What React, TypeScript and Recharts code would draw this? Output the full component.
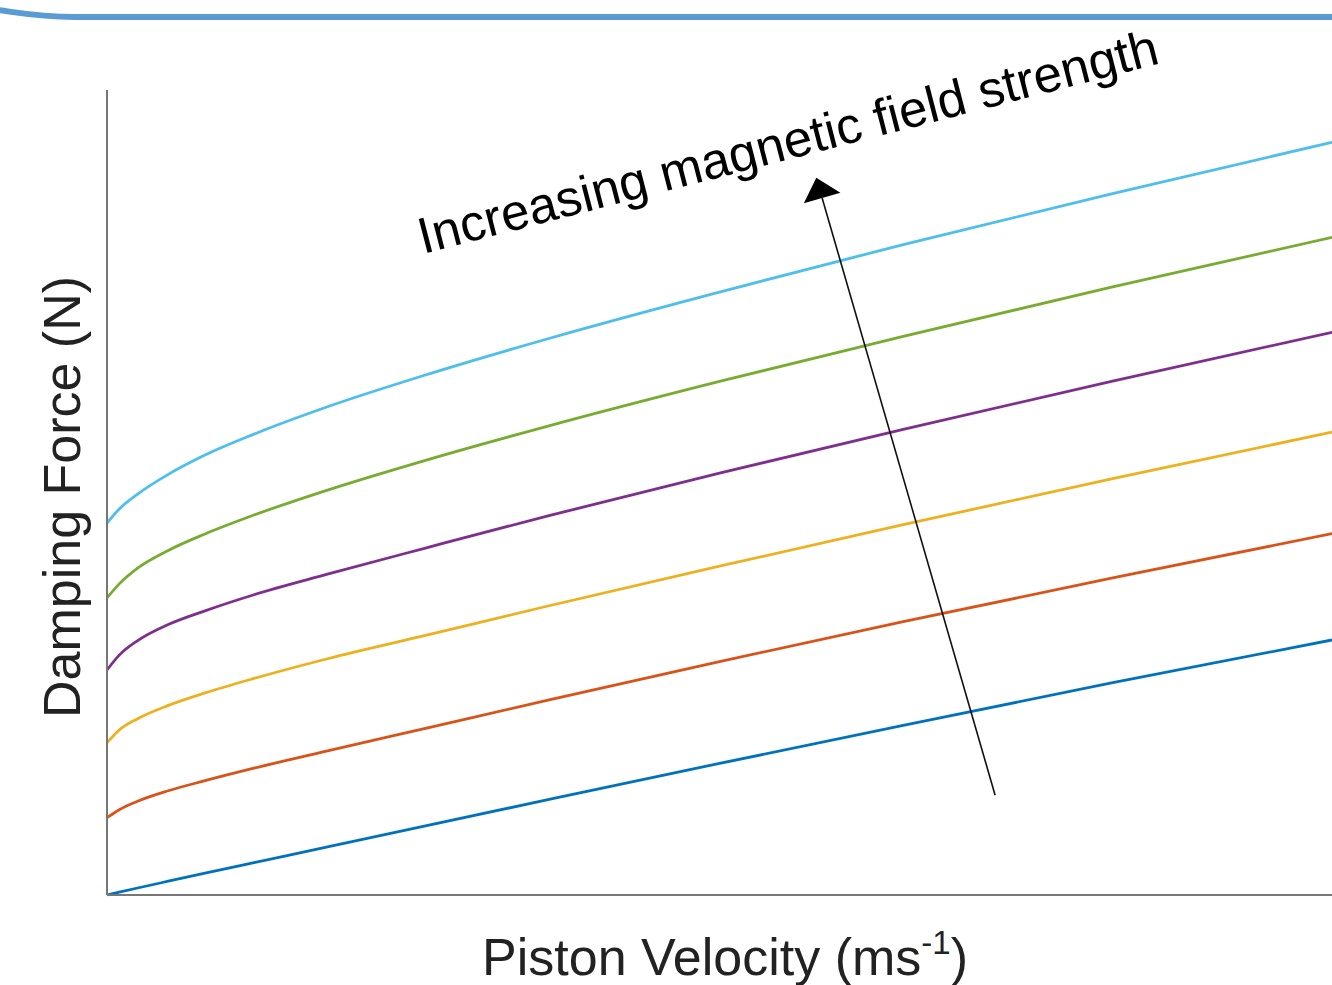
import React from 'react';
import { LineChart, Line, XAxis, YAxis, ReferenceLine } from 'recharts';

// piston velocity (normalised, axis has no ticks)
const velocity = [0, 0.01, 0.025, 0.05, 0.08, 0.12, 0.18, 0.26, 0.36, 0.5, 0.65, 0.82, 1.0];

// damping force per field strength, lowest to highest
const force0 = [0, 0.35, 0.87, 1.71, 2.71, 4.02, 5.99, 8.6, 11.84, 16.34, 21.06, 26.34, 31.68];
const force1 = [9.6, 10.6, 11.65, 12.95, 14.2, 15.75, 17.9, 20.7, 24.2, 29.0, 33.95, 39.35, 44.9];
const force2 = [18.9, 20.5, 21.9, 23.55, 25.1, 26.9, 29.35, 32.25, 35.9, 40.85, 46.0, 51.7, 57.5];
const force3 = [27.95, 29.8, 31.6, 33.6, 35.3, 37.3, 39.85, 43.1, 47.1, 52.4, 57.85, 63.8, 69.9];
const force4 = [36.9, 38.65, 40.6, 42.8, 44.85, 47.2, 50.3, 54.0, 58.25, 63.8, 69.4, 75.5, 81.7];
const force5 = [46.2, 47.95, 49.8, 52.25, 54.65, 57.25, 60.65, 64.6, 69.1, 74.9, 80.8, 87.1, 93.5];

const seriesKeys = ['f0', 'f1', 'f2', 'f3', 'f4', 'f5'];
const seriesColors = ['#0072BD', '#D95319', '#EDB120', '#7E2F8E', '#77AC30', '#4DBEEE'];

// arrow annotation (tail -> tip), in data units
const arrowTail = { x: 0.725, y: 12.4 };
const arrowTip = { x: 0.579, y: 89.1 };

const data = velocity.map((v, i) => ({
  v,
  f0: force0[i],
  f1: force1[i],
  f2: force2[i],
  f3: force3[i],
  f4: force4[i],
  f5: force5[i],
}));

const FONT = '"Liberation Sans", Arial, Helvetica, sans-serif';

// line with a filled head at the tip end
function ArrowShape(props: any) {
  const { x1, y1, x2, y2 } = props;
  const dx = x2 - x1;
  const dy = y2 - y1;
  const len = Math.sqrt(dx * dx + dy * dy) || 1;
  const ux = dx / len;
  const uy = dy / len;
  const headLen = 21;
  const halfW = 19;
  const bx = x2 - ux * headLen;
  const by = y2 - uy * headLen;
  const pts = [
    [x2, y2],
    [bx - uy * halfW, by + ux * halfW],
    [bx + uy * halfW, by - ux * halfW],
  ]
    .map((p) => p.join(','))
    .join(' ');
  return (
    <g>
      <line x1={x1} y1={y1} x2={bx} y2={by} stroke="#111" strokeWidth={1.6} />
      <polygon points={pts} fill="#000" />
    </g>
  );
}

export default function App() {
  return (
    <div
      style={{
        position: 'absolute',
        left: 0,
        top: 0,
        width: 1332,
        height: 985,
        overflow: 'hidden',
        background: '#fff',
      }}
    >
      <LineChart
        width={1332}
        height={985}
        data={data}
        margin={{ top: 90, right: 0, bottom: 89, left: 106 }}
      >
        <XAxis
          type="number"
          dataKey="v"
          domain={[0, 1]}
          tick={false}
          tickLine={false}
          height={1}
          axisLine={{ stroke: '#777', strokeWidth: 2 }}
        />
        <YAxis
          type="number"
          domain={[0, 100]}
          tick={false}
          tickLine={false}
          width={1}
          axisLine={{ stroke: '#777', strokeWidth: 2 }}
        />
        {seriesKeys.map((k, i) => (
          <Line
            key={k}
            type="monotone"
            dataKey={k}
            stroke={seriesColors[i]}
            strokeWidth={2.8}
            dot={false}
            isAnimationActive={false}
          />
        ))}
        <ReferenceLine segment={[arrowTail, arrowTip]} shape={ArrowShape} />
      </LineChart>
      <svg
        width={1332}
        height={985}
        style={{ position: 'absolute', left: 0, top: 0, pointerEvents: 'none' }}
      >
        <path
          d="M -2 10 C 20 13, 40 17, 75 17 L 1340 17"
          fill="none"
          stroke="#5B9BD5"
          strokeWidth={6}
        />
        <text
          x={423}
          y={254}
          fontFamily={FONT}
          fontSize={51}
          fill="#000"
          transform="rotate(-14.5 423 254)"
        >
          Increasing magnetic field strength
        </text>
        <text
          x={80}
          y={497}
          fontFamily={FONT}
          fontSize={52}
          fill="#222"
          textAnchor="middle"
          transform="rotate(-90 80 497)"
        >
          Damping Force (N)
        </text>
        <text x={725} y={975} fontFamily={FONT} fontSize={52} fill="#222" textAnchor="middle">
          Piston Velocity (ms
          <tspan dy={-21} fontSize={33}>-1</tspan>
          <tspan dy={21}>)</tspan>
        </text>
      </svg>
    </div>
  );
}
